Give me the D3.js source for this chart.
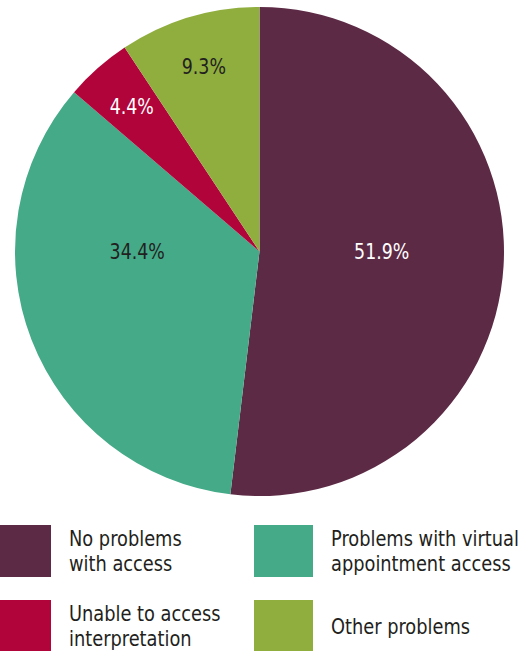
<!DOCTYPE html>
<html>
<head>
<meta charset="utf-8">
<script src="https://cdn.jsdelivr.net/npm/d3@7"></script>
<style>
  html, body { margin: 0; padding: 0; background: #fff; }
  svg { display: block; }
  text { font-family: "DejaVu Sans", sans-serif; font-stretch: condensed; }
</style>
</head>
<body>
<svg id="chart" width="531" height="651"></svg>
<script>
// Access problems reported, share of respondents (%)
const categories = [
  "No problems with access",
  "Problems with virtual appointment access",
  "Unable to access interpretation",
  "Other problems"
];
const values = [51.9, 34.4, 4.4, 9.3];
const colors = ["#5d2a45", "#44aa88", "#b0043a", "#8fae3e"];
const labelColors = ["#ffffff", "#231f20", "#ffffff", "#231f20"];
// Legend text, split into lines; order gives the grid position
const legendLines = [
  ["No problems", "with access"],
  ["Problems with virtual", "appointment access"],
  ["Unable to access", "interpretation"],
  ["Other problems"]
];

const svg = d3.select("#chart");
const cx = 259.5, cy = 251.5, r = 244.5;
const squeeze = 0.9; // narrow the type a little more than the condensed face

const pie = d3.pie().sort(null).value(d => d.value);
const data = categories.map((c, i) => ({ name: c, value: values[i], i }));
const arcs = pie(data);
const arc = d3.arc().innerRadius(0).outerRadius(r);

const g = svg.append("g").attr("transform", `translate(${cx},${cy})`);
g.selectAll("path.slice")
  .data(arcs)
  .join("path")
  .attr("class", "slice")
  .attr("d", arc)
  .attr("fill", d => colors[d.data.i]);

// Large slices: label on the horizontal through the centre, half-way out.
// Small slices: label near the rim along the slice's mid-angle.
g.selectAll("text.pct")
  .data(arcs)
  .join("text")
  .attr("class", "pct")
  .attr("transform", d => {
    let x, y;
    if (d.data.value > 20) {
      const mid = (d.startAngle + d.endAngle) / 2;
      x = Math.sign(Math.sin(mid)) * r * 0.5; y = 0;
    } else {
      const la = d3.arc().innerRadius(r * 0.79).outerRadius(r * 0.79);
      [x, y] = la.centroid(d);
    }
    return `translate(${x},${y}) scale(${squeeze},1)`;
  })
  .attr("text-anchor", "middle")
  .attr("dy", "0.35em")
  .attr("font-size", 21.5)
  .attr("fill", d => labelColors[d.data.i])
  .text(d => d3.format(".1f")(d.data.value) + "%");

// Legend: two columns, two rows
const colX = [-8, 254];
const rowY = [525, 600];
const sw = 59, sh = 52;
const leg = svg.append("g");
categories.forEach((c, i) => {
  const col = i % 2, row = Math.floor(i / 2);
  const x = colX[col], y = rowY[row];
  leg.append("rect")
    .attr("x", x).attr("y", y)
    .attr("width", sw).attr("height", sh)
    .attr("fill", colors[i]);
  const lines = legendLines[i];
  const lh = 25;
  const startY = y + sh / 2 - (lines.length - 1) * lh / 2;
  const t = leg.append("text")
    .attr("transform", `translate(${x + sw + 18},0) scale(${squeeze},1)`)
    .attr("font-size", 22)
    .attr("fill", "#231f20");
  lines.forEach((ln, k) => {
    t.append("tspan")
      .attr("x", 0)
      .attr("y", startY + k * lh)
      .attr("dy", "0.35em")
      .text(ln);
  });
});
</script>
</body>
</html>
